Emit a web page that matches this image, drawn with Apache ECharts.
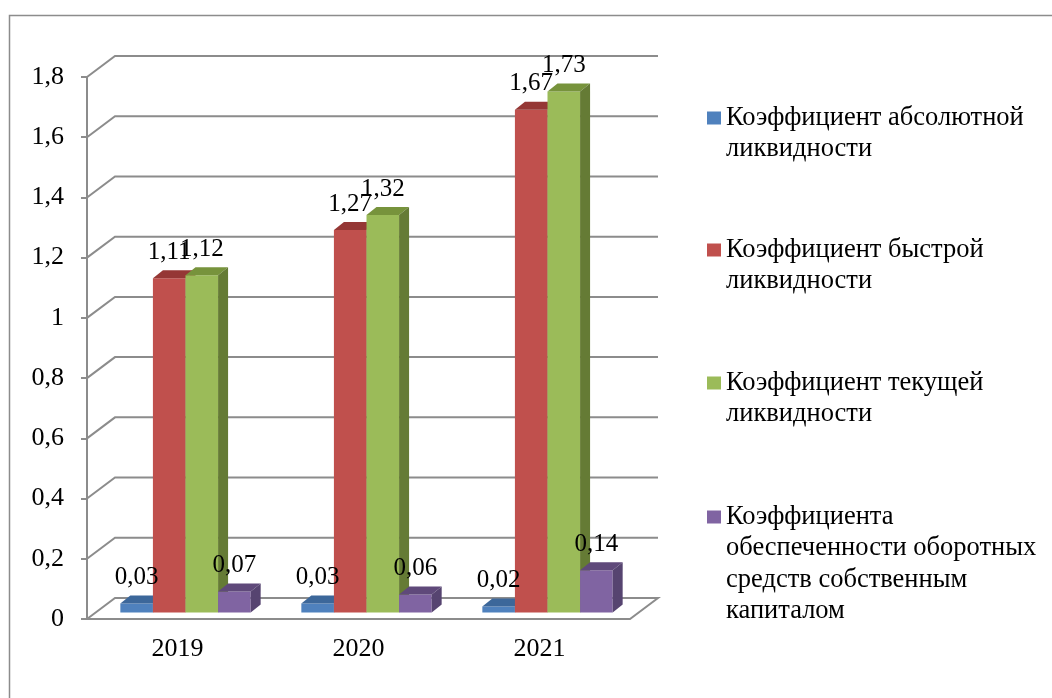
<!DOCTYPE html>
<html>
<head>
<meta charset="utf-8">
<script src="https://cdn.jsdelivr.net/npm/echarts@6/dist/echarts.min.js"></script>
<style>
html,body{margin:0;padding:0;background:#fff;}
#chart{width:1052px;height:698px;}
</style>
</head>
<body>
<div id="chart"></div>
<script>
// ---- data ----
const years = ['2019', '2020', '2021'];
const seriesNames = [
  'Коэффициент абсолютной ликвидности',
  'Коэффициент быстрой ликвидности',
  'Коэффициент текущей ликвидности',
  'Коэффициента обеспеченности оборотных средств собственным капиталом'
];
const legendLines = [
  ['Коэффициент абсолютной', 'ликвидности'],
  ['Коэффициент быстрой', 'ликвидности'],
  ['Коэффициент текущей', 'ликвидности'],
  ['Коэффициента', 'обеспеченности оборотных', 'средств собственным', 'капиталом']
];
const absLiquidity = [0.03, 0.03, 0.02];
const quickLiquidity = [1.11, 1.27, 1.67];
const currentLiquidity = [1.12, 1.32, 1.73];
const ownCapitalRatio = [0.07, 0.06, 0.14];
const yTicks = [0, 0.2, 0.4, 0.6, 0.8, 1, 1.2, 1.4, 1.6, 1.8];

// ---- styles ----
const allValues = [absLiquidity, quickLiquidity, currentLiquidity, ownCapitalRatio];
const palettes = [
  {front: '#4F81BD', top: '#3C679A', side: '#375B87'},
  {front: '#C0504D', top: '#953735', side: '#8A3634'},
  {front: '#9BBB59', top: '#77933C', side: '#657B35'},
  {front: '#8064A2', top: '#5F497A', side: '#564470'}
];
const FONT = 'Liberation Serif';
const GRID_COLOR = '#8c8c8c';
const DX = 28, DY = -21;          // wall depth
const SX = 8, SY = -6.5;          // bar front face offset into depth
const BDX = 10, BDY = -8;         // bar depth
const BAR_FRAC = 0.18;

const fmt = v => String(v).replace('.', ',');

function barGeom(api, s) {
  const i = api.value(0), v = api.value(1);
  const base = api.coord([i, 0]);
  const top = api.coord([i, v]);
  const band = api.size([1, 0])[0];
  const bw = band * BAR_FRAC;
  const x = base[0] - 2 * bw + s * bw + SX;
  return {x: x, w: bw, yt: top[1] + SY, yb: base[1] + SY, v: v};
}

const series = [];

// walls / gridlines
series.push({
  type: 'custom',
  name: 'walls',
  silent: true,
  z: 1,
  data: yTicks.map(v => [0, v]),
  clip: false,
  renderItem: function (params, api) {
    const cs = params.coordSys;
    const x0 = cs.x, x1 = cs.x + cs.width;
    const y = api.coord([0, api.value(1)])[1];
    const style = {stroke: GRID_COLOR, lineWidth: 2, fill: null};
    if (api.value(1) === 0) {
      return {type: 'polygon', shape: {points: [[x0, y], [x0 + DX, y + DY], [x1 + DX, y + DY], [x1, y]]}, style: style};
    }
    return {type: 'polyline', shape: {points: [[x0, y], [x0 + DX, y + DY], [x1 + DX, y + DY]]}, style: style};
  }
});

// bars
allValues.forEach((vals, s) => {
  const pal = palettes[s];
  series.push({
    type: 'custom',
    name: seriesNames[s],
    z: 2,
    itemStyle: {color: pal.front},
    data: vals.map((v, i) => [i, v]),
    clip: false,
    renderItem: function (params, api) {
      const g = barGeom(api, s);
      const x = g.x, w = g.w, yt = g.yt, yb = g.yb;
      return {
        type: 'group',
        children: [
          {type: 'rect', shape: {x: x, y: yt, width: w, height: yb - yt}, style: {fill: pal.front}},
          {type: 'polygon', shape: {points: [[x, yt], [x + BDX, yt + BDY], [x + w + BDX, yt + BDY], [x + w, yt]]}, style: {fill: pal.top}},
          {type: 'polygon', shape: {points: [[x + w, yt], [x + w + BDX, yt + BDY], [x + w + BDX, yb + BDY], [x + w, yb]]}, style: {fill: pal.side}}
        ]
      };
    }
  });
});

// value labels
allValues.forEach((vals, s) => {
  series.push({
    type: 'custom',
    name: seriesNames[s],
    z: 5,
    silent: true,
    itemStyle: {color: palettes[s].front},
    data: vals.map((v, i) => [i, v]),
    clip: false,
    renderItem: function (params, api) {
      const g = barGeom(api, s);
      return {
        type: 'text',
        style: {
          text: fmt(g.v),
          x: g.x + g.w / 2,
          y: g.yt - 26,
          align: 'center',
          verticalAlign: 'middle',
          fill: '#000',
          fontSize: 25,
          fontFamily: FONT
        }
      };
    }
  });
});

// legends (one per item; leading blank lines keep the square on the first text line)
const LH = 31.5;
const legendCenters = [118, 250, 383, 517];
const legends = legendLines.map((lines, k) => {
  const n = lines.length;
  const blank = new Array(n - 1).fill(' ');
  return {
    show: true,
    orient: 'vertical',
    left: 707,
    top: legendCenters[k] - (2 * n - 1) * LH / 2,
    padding: 0,
    itemWidth: 14,
    itemHeight: 13,
    icon: 'rect',
    data: [seriesNames[k]],
    formatter: () => blank.concat(lines).join('\n'),
    textStyle: {
      fontSize: 26.5,
      lineHeight: LH,
      fontFamily: FONT,
      color: '#000'
    }
  };
});

const option = {
  backgroundColor: '#fff',
  animation: false,
  grid: {left: 87, right: 422, top: 77, bottom: 79, containLabel: false},
  legend: legends,
  xAxis: {
    type: 'category',
    data: years,
    axisLine: {show: false},
    axisTick: {show: false},
    axisLabel: {fontSize: 26, fontFamily: FONT, color: '#000', margin: 17}
  },
  yAxis: {
    type: 'value',
    min: 0,
    max: 1.8,
    interval: 0.2,
    axisLine: {show: true, lineStyle: {color: GRID_COLOR, width: 2}},
    axisTick: {show: true, length: 6, lineStyle: {color: GRID_COLOR, width: 2}},
    splitLine: {show: false},
    axisLabel: {fontSize: 26, fontFamily: FONT, color: '#000', margin: 23, formatter: fmt}
  },
  graphic: [{
    type: 'rect',
    silent: true,
    shape: {x: 9.5, y: 15.5, width: 1100, height: 800},
    style: {fill: 'none', stroke: '#8c8c8c', lineWidth: 1.5}
  }],
  series: series
};

const chart = echarts.init(document.getElementById('chart'), null, {renderer: 'canvas'});
chart.setOption(option);
</script>
</body>
</html>
